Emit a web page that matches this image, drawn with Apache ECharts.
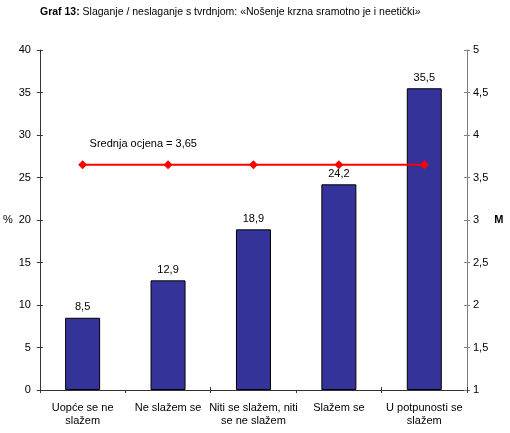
<!DOCTYPE html>
<html>
<head>
<meta charset="utf-8">
<script src="https://cdn.jsdelivr.net/npm/echarts@6/dist/echarts.min.js"></script>
<style>
html,body{margin:0;padding:0;background:#fff;}
#c{width:510px;height:433px;}
</style>
</head>
<body>
<div id="c"></div>
<script>
const categories = ["Uopće se ne\nslažem", "Ne slažem se", "Niti se slažem, niti\nse ne slažem", "Slažem se", "U potpunosti se\nslažem"];
const percentValues = [8.5, 12.9, 18.9, 24.2, 35.5];
const meanValues = [3.65, 3.65, 3.65, 3.65, 3.65];
const meanLabel = "Srednja ocjena = 3,65";

const FONT = "Liberation Sans, Arial, sans-serif";
const comma = v => String(v).replace('.', ',');

const chart = echarts.init(document.getElementById('c'), null, {renderer: 'canvas'});

const leftCommon = {min: 0, max: 40, interval: 5, position: 'left'};
const rightCommon = {min: 1, max: 5, interval: 0.5, position: 'right'};

chart.setOption({
  animation: false,
  backgroundColor: '#fff',
  textStyle: {fontFamily: FONT},
  title: {
    text: '{b|Graf 13:} Slaganje / neslaganje s tvrdnjom: «Nošenje krzna sramotno je i neetički»',
    left: 40, top: 7, padding: 0,
    textStyle: {
      fontFamily: FONT, fontSize: 10.5, fontWeight: 'normal', color: '#000',
      rich: {b: {fontFamily: FONT, fontSize: 10.5, fontWeight: 'bold', color: '#000'}}
    }
  },
  grid: {left: 36, right: 43, top: 50, bottom: 43, containLabel: false},
  xAxis: [
    {
      type: 'category', data: categories, position: 'bottom', boundaryGap: true,
      axisLine: {lineStyle: {color: '#333', width: 1}},
      axisTick: {show: true, length: 3, inside: false, lineStyle: {color: '#333'}},
      axisLabel: {fontFamily: FONT, fontSize: 11, color: '#000', margin: 11, interval: 0, lineHeight: 13},
      splitLine: {show: false}
    },
    {
      type: 'category', data: categories, position: 'bottom', offset: 0, boundaryGap: true,
      axisLine: {show: false},
      axisTick: {show: true, length: 3, inside: true, lineStyle: {color: '#333'}},
      axisLabel: {show: false},
      splitLine: {show: false}
    }
  ],
  yAxis: [
    Object.assign({}, leftCommon, {
      type: 'value', name: '%', nameLocation: 'middle', nameGap: 24, nameRotate: 0,
      nameTextStyle: {fontFamily: FONT, fontSize: 11, color: '#000'},
      axisLine: {show: true, lineStyle: {color: '#333'}},
      axisTick: {show: true, length: 3, lineStyle: {color: '#333'}},
      axisLabel: {fontFamily: FONT, fontSize: 11, color: '#000', margin: 9},
      splitLine: {show: false}
    }),
    Object.assign({}, rightCommon, {
      type: 'value', name: 'M', nameLocation: 'middle', nameGap: 14, nameRotate: 0,
      nameTextStyle: {fontFamily: FONT, fontSize: 11, fontWeight: 'bold', color: '#000', align: 'left'},
      axisLine: {show: true, lineStyle: {color: '#808080'}},
      axisTick: {show: true, length: 3, lineStyle: {color: '#808080'}},
      axisLabel: {fontFamily: FONT, fontSize: 11, color: '#000', margin: 6, formatter: v => comma(v)},
      splitLine: {show: false}
    }),
    Object.assign({}, leftCommon, {
      type: 'value', axisLine: {show: false},
      axisTick: {show: true, inside: true, length: 3, lineStyle: {color: '#333'}},
      axisLabel: {show: false}, splitLine: {show: false}
    }),
    Object.assign({}, rightCommon, {
      type: 'value', axisLine: {show: false},
      axisTick: {show: true, inside: true, length: 3, lineStyle: {color: '#808080'}},
      axisLabel: {show: false}, splitLine: {show: false}
    })
  ],
  series: [
    {
      type: 'bar', data: percentValues, xAxisIndex: 0, yAxisIndex: 0,
      barWidth: 35,
      itemStyle: {color: '#333399', borderColor: '#000', borderWidth: 1},
      label: {show: true, position: 'top', distance: 5, fontFamily: FONT, fontSize: 11, color: '#000',
              formatter: p => comma(p.value)},
      z: 2
    },
    {
      type: 'line', data: meanValues.map((v, i) => i === 0 ? {
          value: v,
          label: {show: true, position: 'top', align: 'left', distance: 5, offset: [7, -6],
                  fontFamily: FONT, fontSize: 11, color: '#000', formatter: () => meanLabel}
        } : v),
      xAxisIndex: 0, yAxisIndex: 1,
      symbol: 'diamond', symbolSize: 9,
      lineStyle: {color: '#ff0000', width: 2},
      itemStyle: {color: '#ff0000'},
      label: {show: false},
      z: 5
    }
  ]
});
</script>
</body>
</html>
